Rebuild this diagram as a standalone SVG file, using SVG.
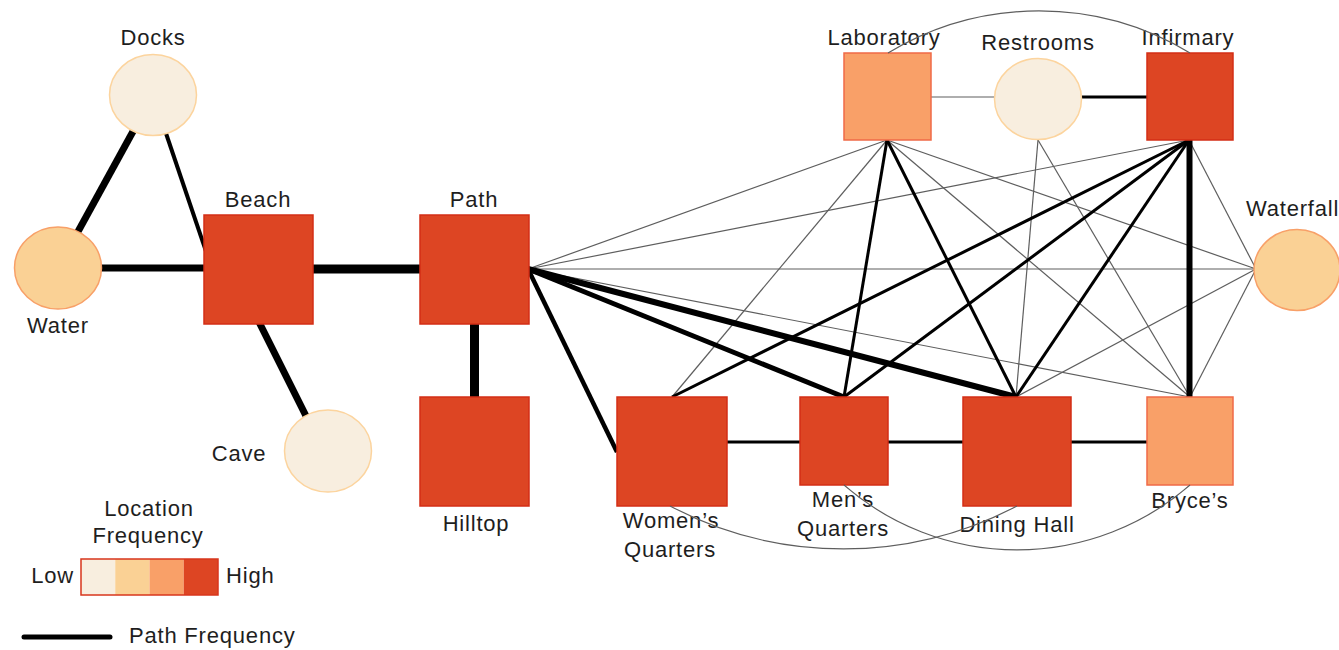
<svg xmlns="http://www.w3.org/2000/svg" width="1339" height="650" viewBox="0 0 1339 650">
<style>
text{font-family:"Liberation Sans",Arial,sans-serif;font-size:22px;fill:#1e1e1e;letter-spacing:0.8px}
.m{text-anchor:middle}
.e{text-anchor:end}
.thin{stroke:#5e5e5e;stroke-width:1.2;fill:none}
.k{stroke:#000;fill:none}
.arc{stroke:#5e5e5e;stroke-width:1.2;fill:none}
.hi{fill:#dd4523;stroke:#d32e16;stroke-width:1.5}
.mh{fill:#f9a068;stroke:#ef6a47;stroke-width:1.5}
.ml{fill:#fad195;stroke:#f8a068;stroke-width:1.5}
.lo{fill:#f8eedf;stroke:#fcd49e;stroke-width:1.5}
</style>
<rect width="1339" height="650" fill="#fff"/>
<g id="connectors">
  <!-- left cluster -->
  <line class="k" x1="153" y1="95" x2="58" y2="268" stroke-width="7"/>
  <line class="k" x1="153" y1="95" x2="212" y2="269" stroke-width="4"/>
  <line class="k" x1="58" y1="268" x2="258" y2="268" stroke-width="7"/>
  <line class="k" x1="258" y1="269" x2="474" y2="269" stroke-width="9"/>
  <line class="k" x1="253" y1="310" x2="322" y2="448" stroke-width="7"/>
  <line class="k" x1="474.5" y1="269" x2="474.5" y2="452" stroke-width="9"/>
  <!-- thin right cluster -->
  <line class="thin" x1="528" y1="269" x2="887" y2="140"/>
  <line class="thin" x1="528" y1="269" x2="1189" y2="140"/>
  <line class="thin" x1="528" y1="269" x2="1256" y2="269"/>
  <line class="thin" x1="528" y1="269" x2="1190" y2="397"/>
  <line class="thin" x1="887" y1="140" x2="672" y2="397"/>
  <line class="thin" x1="887" y1="140" x2="1190" y2="397"/>
  <line class="thin" x1="887" y1="140" x2="1256" y2="269"/>
  <line class="thin" x1="1038" y1="140" x2="1016" y2="397"/>
  <line class="thin" x1="1038" y1="140" x2="1190" y2="397"/>
  <line class="thin" x1="1189" y1="140" x2="1256" y2="269"/>
  <line class="thin" x1="1256" y1="269" x2="1016" y2="397"/>
  <line class="thin" x1="1256" y1="269" x2="1190" y2="397"/>
  <line class="thin" x1="931" y1="97" x2="995" y2="97"/>
  <!-- thick right cluster -->
  <line class="k" x1="528" y1="269" x2="617" y2="452" stroke-width="4.5"/>
  <line class="k" x1="528" y1="269" x2="844" y2="397" stroke-width="5"/>
  <line class="k" x1="528" y1="269" x2="1016" y2="397" stroke-width="6"/>
  <line class="k" x1="887" y1="140" x2="844" y2="397" stroke-width="3"/>
  <line class="k" x1="887" y1="140" x2="1016" y2="397" stroke-width="3"/>
  <line class="k" x1="1189" y1="140" x2="672" y2="397" stroke-width="3"/>
  <line class="k" x1="1189" y1="140" x2="844" y2="397" stroke-width="3"/>
  <line class="k" x1="1189" y1="140" x2="1016" y2="397" stroke-width="3"/>
  <line class="k" x1="1189.5" y1="140" x2="1189.5" y2="397" stroke-width="6"/>
  <line class="k" x1="1082" y1="97" x2="1147" y2="97" stroke-width="3"/>
  <line class="k" x1="727" y1="442" x2="800" y2="442" stroke-width="3"/>
  <line class="k" x1="888" y1="442" x2="963" y2="442" stroke-width="3"/>
  <line class="k" x1="1071" y1="442" x2="1147" y2="442" stroke-width="3"/>
</g>
<g id="node-docks"><ellipse class="lo" cx="153" cy="95" rx="43.5" ry="40.5"/><text class="m" x="153" y="45">Docks</text></g>
<g id="node-water"><ellipse class="ml" cx="58" cy="268" rx="43.5" ry="41"/><text class="m" x="58" y="333">Water</text></g>
<g id="node-beach"><rect class="hi" x="204" y="215" width="109" height="109"/><text class="m" x="258" y="207">Beach</text></g>
<g id="node-cave"><ellipse class="lo" cx="328" cy="451" rx="43.5" ry="41"/><text class="m" x="239" y="461">Cave</text></g>
<g id="node-path"><rect class="hi" x="420" y="215" width="109" height="109"/><text class="m" x="474" y="207">Path</text></g>
<g id="node-hilltop"><rect class="hi" x="420" y="397" width="109" height="109"/><text class="m" x="476" y="531">Hilltop</text></g>
<g id="node-laboratory"><rect class="mh" x="844" y="53" width="87" height="87"/><text class="m" x="884" y="45">Laboratory</text></g>
<g id="node-restrooms"><ellipse class="lo" cx="1038" cy="99" rx="43.5" ry="40.5"/><text class="m" x="1038" y="50">Restrooms</text></g>
<g id="node-infirmary"><rect class="hi" x="1147" y="53" width="86" height="87"/><text class="m" x="1188" y="45">Infirmary</text></g>
<g id="node-waterfall"><ellipse class="ml" cx="1297" cy="270" rx="43" ry="40.5"/><text x="1246" y="216">Waterfall</text></g>
<g id="node-womens"><rect class="hi" x="617" y="397" width="110" height="109"/><text class="m" x="671" y="528">Women’s</text><text class="m" x="670" y="557">Quarters</text></g>
<g id="node-mens"><rect class="hi" x="800" y="397" width="88" height="88"/><text class="m" x="843" y="507">Men’s</text><text class="m" x="843" y="536">Quarters</text></g>
<g id="node-dining"><rect class="hi" x="963" y="397" width="108" height="109"/><text class="m" x="1017" y="532">Dining Hall</text></g>
<g id="node-bryces"><rect class="mh" x="1147" y="397" width="86" height="88"/><text class="m" x="1190" y="508">Bryce’s</text></g>
<g id="arcs">
  <path class="arc" d="M888,53 A292,292 0 0 1 1190,53"/>
  <path class="arc" d="M670,506 A372,372 0 0 0 1017,506"/>
  <path class="arc" d="M844,485 A263,263 0 0 0 1190,485"/>
</g>
<g id="legend">
  <text class="m" x="149" y="516">Location</text>
  <text class="m" x="148" y="543">Frequency</text>
  <rect x="81" y="559" width="34.25" height="36" fill="#f8eedf"/>
  <rect x="115.25" y="559" width="34.25" height="36" fill="#fad195"/>
  <rect x="149.5" y="559" width="34.25" height="36" fill="#f9a068"/>
  <rect x="183.75" y="559" width="34.25" height="36" fill="#dd4523"/>
  <rect x="81" y="559" width="137" height="36" fill="none" stroke="#d8361c" stroke-width="1.5"/>
  <text class="e" x="74" y="583">Low</text>
  <text x="226" y="583">High</text>
  <line x1="24" y1="637" x2="110" y2="637" stroke="#000" stroke-width="5" stroke-linecap="round"/>
  <text x="129" y="643">Path Frequency</text>
</g>
</svg>
